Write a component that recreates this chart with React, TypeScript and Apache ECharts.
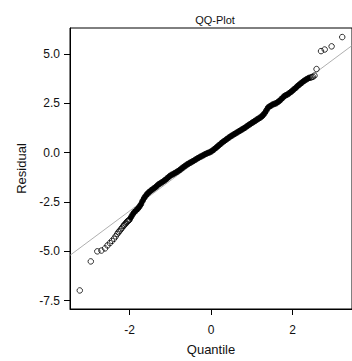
import React, { useEffect, useRef } from "react";
import * as echarts from "echarts";

const titleText = "QQ-Plot";
const xName = "Quantile";
const yName = "Residual";
const xTicks = [-2, 0, 2];
const yTicks = [-7.5, -5.0, -2.5, 0.0, 2.5, 5.0];

// lower tail (individual points)
const tailLowX = [-3.22, -2.95, -2.79, -2.69, -2.60, -2.54, -2.48, -2.43, -2.38, -2.34, -2.30, -2.27, -2.24, -2.21, -2.18, -2.15, -2.13, -2.10, -2.08, -2.06, -2.04, -2.02];
const tailLowY = [-6.98, -5.51, -5.00, -4.96, -4.85, -4.70, -4.58, -4.47, -4.36, -4.24, -4.12, -4.03, -3.96, -3.88, -3.80, -3.72, -3.66, -3.61, -3.55, -3.50, -3.46, -3.43];

// dense body of the plot
const denseX = [
  -2.00, -1.96, -1.92, -1.88, -1.84, -1.80, -1.76, -1.72, -1.68, -1.64,
  -1.60, -1.56, -1.52, -1.48, -1.44, -1.40, -1.36, -1.32, -1.28, -1.24,
  -1.20, -1.16, -1.12, -1.08, -1.04, -1.00, -0.96, -0.92, -0.88, -0.84,
  -0.80, -0.76, -0.72, -0.68, -0.64, -0.60, -0.56, -0.52, -0.48, -0.44,
  -0.40, -0.36, -0.32, -0.28, -0.24, -0.20, -0.16, -0.12, -0.08, -0.04,
  0.00, 0.04, 0.08, 0.12, 0.16, 0.20, 0.24, 0.28, 0.32, 0.36,
  0.40, 0.44, 0.48, 0.52, 0.56, 0.60, 0.64, 0.68, 0.72, 0.76,
  0.80, 0.84, 0.88, 0.92, 0.96, 1.00, 1.04, 1.08, 1.12, 1.16,
  1.20, 1.24, 1.28, 1.32, 1.36, 1.40, 1.44, 1.48, 1.52, 1.56,
  1.60, 1.64, 1.68, 1.72, 1.76, 1.80, 1.84, 1.88, 1.92, 1.96,
  2.00, 2.04, 2.08, 2.12, 2.16, 2.20, 2.24, 2.28, 2.32, 2.36,
  2.40, 2.44,
];
const denseY = [
  -3.40, -3.26, -3.12, -3.01, -2.93, -2.85, -2.75, -2.62, -2.45, -2.30,
  -2.18, -2.08, -2.00, -1.93, -1.87, -1.81, -1.75, -1.67, -1.60, -1.55,
  -1.50, -1.44, -1.38, -1.31, -1.24, -1.17, -1.12, -1.08, -1.03, -0.98,
  -0.93, -0.87, -0.80, -0.74, -0.68, -0.62, -0.57, -0.52, -0.48, -0.43,
  -0.38, -0.33, -0.28, -0.23, -0.19, -0.15, -0.10, -0.06, -0.02, 0.01,
  0.05, 0.11, 0.17, 0.24, 0.31, 0.38, 0.45, 0.52, 0.58, 0.64,
  0.70, 0.76, 0.82, 0.87, 0.92, 0.97, 1.02, 1.07, 1.12, 1.17,
  1.22, 1.27, 1.33, 1.39, 1.44, 1.50, 1.55, 1.60, 1.66, 1.71,
  1.76, 1.82, 1.90, 2.01, 2.14, 2.28, 2.34, 2.39, 2.44, 2.47,
  2.50, 2.56, 2.62, 2.70, 2.78, 2.86, 2.91, 2.95, 3.01, 3.07,
  3.14, 3.21, 3.28, 3.36, 3.43, 3.50, 3.56, 3.63, 3.68, 3.73,
  3.78, 3.80,
];

// upper tail (individual points)
const tailHighX = [2.47, 2.50, 2.54, 2.59, 2.70, 2.79, 2.96, 3.22];
const tailHighY = [3.82, 3.84, 3.90, 4.23, 5.14, 5.22, 5.38, 5.85];

// reference line end points
const refX = [-3.46, 3.46];
const refY = [-5.2, 5.42];

const FONT = 'Arial, "Liberation Sans", sans-serif';

export default function App() {
  const ref = useRef<HTMLDivElement>(null);
  useEffect(() => {
    if (!ref.current) return;
    const chart = echarts.init(ref.current, null, { renderer: "svg" });
    const pair = (xs: number[], ys: number[]) => xs.map((x, i) => [x, ys[i]]);
    const allPts = [
      ...pair(tailLowX, tailLowY),
      ...pair(denseX, denseY),
      ...pair(tailHighX, tailHighY),
    ];
    chart.setOption({
      animation: false,
      backgroundColor: "#fff",
      textStyle: { fontFamily: FONT },
      grid: {
        left: 70,
        right: -8,
        top: 28,
        bottom: 45,
        show: true,
        borderColor: "#000",
        borderWidth: 1,
        containLabel: false,
      },
      graphic: [
        {
          type: "text",
          x: 215,
          y: 20,
          style: {
            text: titleText,
            fill: "#111",
            font: `11px ${FONT}`,
            textAlign: "center",
            textVerticalAlign: "middle",
          },
        },
      ],
      xAxis: {
        type: "value",
        min: -3.46,
        max: 3.46,
        name: xName,
        nameLocation: "middle",
        nameGap: 34,
        nameTextStyle: { color: "#111", fontSize: 13, fontFamily: FONT },
        axisLine: { show: true, onZero: false, lineStyle: { color: "#000", width: 1 } },
        axisTick: { show: true, length: 6, customValues: xTicks, lineStyle: { color: "#000" } },
        axisLabel: {
          customValues: xTicks,
          margin: 15,
          color: "#111",
          fontSize: 12,
          fontFamily: FONT,
          formatter: (v: number) => String(v),
        },
        splitLine: { show: false },
      },
      yAxis: {
        type: "value",
        min: -7.92,
        max: 6.31,
        name: yName,
        nameLocation: "middle",
        nameGap: 42,
        nameTextStyle: { color: "#111", fontSize: 13, fontFamily: FONT },
        axisLine: { show: true, onZero: false, lineStyle: { color: "#000", width: 1 } },
        axisTick: { show: true, length: 6, customValues: yTicks, lineStyle: { color: "#000" } },
        axisLabel: {
          customValues: yTicks,
          margin: 10,
          color: "#111",
          fontSize: 12,
          fontFamily: FONT,
          formatter: (v: number) => v.toFixed(1),
        },
        splitLine: { show: false },
      },
      series: [
        {
          type: "line",
          data: pair(refX, refY),
          symbol: "none",
          silent: true,
          lineStyle: { color: "#9a9a9a", width: 0.8 },
          z: 1,
        },
        {
          type: "line",
          data: pair(denseX, denseY),
          symbol: "none",
          silent: true,
          lineStyle: { color: "#000", width: 5 },
          z: 2,
        },
        {
          type: "scatter",
          data: allPts,
          symbol: "circle",
          symbolSize: 5.5,
          itemStyle: { color: "rgba(0,0,0,0)", borderColor: "#000", borderWidth: 1 },
          z: 3,
        },
      ],
    });
    return () => chart.dispose();
  }, []);
  return (
    <div
      ref={ref}
      style={{ position: "fixed", left: 0, top: 0, width: 352, height: 361, background: "#fff" }}
    />
  );
}
